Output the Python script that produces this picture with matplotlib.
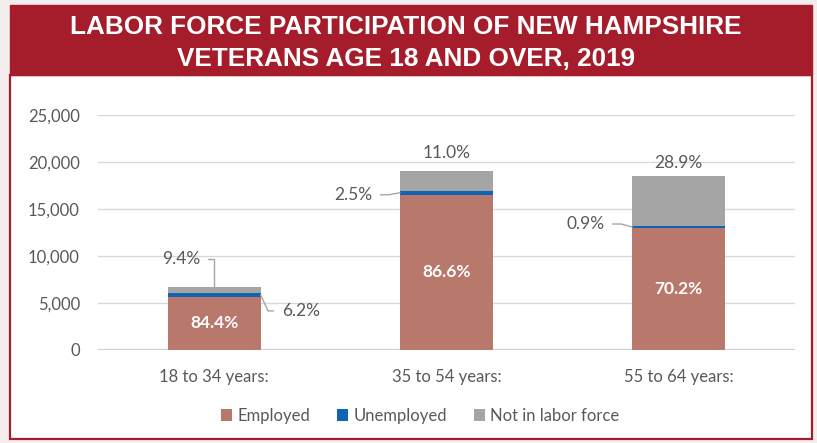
import matplotlib
matplotlib.use("Agg")
import matplotlib.pyplot as plt
from matplotlib.patches import Rectangle
from matplotlib.ticker import FuncFormatter

categories = ["18 to 34 years:", "35 to 54 years:", "55 to 64 years:"]
employed = [5650, 16490, 13000]
unemployed = [415, 476, 167]
not_in_lf = [630, 2095, 5350]
pct_employed = ["84.4%", "86.6%", "70.2%"]
pct_unemployed = ["6.2%", "2.5%", "0.9%"]
pct_not_in_lf = ["9.4%", "11.0%", "28.9%"]
series_names = ["Employed", "Unemployed", "Not in labor force"]
yticks = [0, 5000, 10000, 15000, 20000, 25000]
title_lines = ["LABOR FORCE PARTICIPATION OF NEW HAMPSHIRE",
               "VETERANS AGE 18 AND OVER, 2019"]

C_EMP = "#b8786b"
C_UNE = "#0f64b4"
C_NIL = "#a5a5a5"
C_RED = "#a51c2a"
C_TXT = "#595959"
C_LEAD = "#a6a6a6"
FONT = ["Lato", "DejaVu Sans"]

W, H = 817, 443
fig = plt.figure(figsize=(W / 100, H / 100), dpi=100)
fig.patch.set_facecolor("#f3eded")

# white box with red border and red header band
fig.patches.append(Rectangle((10 / W, 1 - 439 / H), 802 / W, (439 - 75) / H,
                             transform=fig.transFigure, facecolor="white",
                             edgecolor=C_RED, lw=1.6, zorder=-10))
fig.patches.append(Rectangle((10 / W, 1 - 75 / H), 802 / W, 70 / H,
                             transform=fig.transFigure, facecolor=C_RED,
                             edgecolor=C_RED, lw=1.0, zorder=-9))
for line, base in zip(title_lines, [34, 66]):
    fig.text(406 / W, 1 - base / H, line, ha="center", va="baseline", color="white",
             fontsize=18.8, fontweight="bold",
             family=["Liberation Sans", "DejaVu Sans"])

ax = fig.add_axes([98 / W, 1 - 350 / H, (795 - 98) / W, (350 - 115) / H])
ax.set_zorder(5)
ax.set_facecolor("none")
x = list(range(len(categories)))
bw = 0.4
bottom2 = [e + u for e, u in zip(employed, unemployed)]
totals = [b + n for b, n in zip(bottom2, not_in_lf)]

ax.bar(x, employed, bw, color=C_EMP, label=series_names[0], zorder=3)
ax.bar(x, unemployed, bw, bottom=employed, color=C_UNE, label=series_names[1], zorder=3)
ax.bar(x, not_in_lf, bw, bottom=bottom2, color=C_NIL, label=series_names[2], zorder=3)

ax.set_xlim(-0.5, 2.5)
ax.set_ylim(0, 25000)
ax.set_yticks(yticks)
ax.yaxis.set_major_formatter(FuncFormatter(lambda v, p: f"{int(v):,}"))
ax.set_xticks(x)
ax.set_xticklabels(categories)
for s in ax.spines.values():
    s.set_visible(False)
ax.grid(axis="y", color="#d9d9d9", lw=1.0, zorder=0)
ax.axhline(0, color="#d0d0d0", lw=1.6, zorder=2)
ax.tick_params(axis="both", length=0, colors=C_TXT, labelsize=12)
ax.tick_params(axis="y", pad=13)
ax.tick_params(axis="x", pad=14)
for lbl in ax.get_xticklabels() + ax.get_yticklabels():
    lbl.set_family(FONT)

# employed labels
for i in x:
    ax.text(i, employed[i] / 2, pct_employed[i], ha="center", va="center",
            color="white", fontsize=12.5, fontweight="bold", family=FONT, zorder=5)

lead = dict(arrowstyle="-", color=C_LEAD, lw=1.0, shrinkA=4, shrinkB=0)
tkw = dict(color=C_TXT, fontsize=12.5, family=FONT, textcoords="offset pixels", zorder=5)

# 18 to 34
ax.annotate(pct_not_in_lf[0], xy=(0, totals[0]), xytext=(-14, 28), ha="right", va="center",
            arrowprops=dict(connectionstyle="angle,angleA=0,angleB=90,rad=0", **lead), **tkw)
ax.annotate(pct_unemployed[0], xy=(0 + bw / 2, employed[0] + unemployed[0] / 2),
            xytext=(21, -16), ha="left", va="center",
            arrowprops=dict(connectionstyle="angle,angleA=0,angleB=-65,rad=0", **lead), **tkw)
# 35 to 54
ax.annotate(pct_unemployed[1], xy=(1 - bw / 2, employed[1] + unemployed[1] / 2),
            xytext=(-28, -2), ha="right", va="center",
            arrowprops=dict(connectionstyle="angle,angleA=0,angleB=10,rad=0", **lead), **tkw)
ax.annotate(pct_not_in_lf[1], xy=(1, totals[1]), xytext=(0, 18), ha="center", va="center", **tkw)
# 55 to 64
ax.annotate(pct_unemployed[2], xy=(2 - bw / 2, employed[2] + unemployed[2] / 2),
            xytext=(-28, 3), ha="right", va="center",
            arrowprops=dict(connectionstyle="angle,angleA=0,angleB=-15,rad=0", **lead), **tkw)
ax.annotate(pct_not_in_lf[2], xy=(2, totals[2]), xytext=(0, 13), ha="center", va="center", **tkw)

leg = fig.legend(loc="center", bbox_to_anchor=(420 / W, 1 - 416 / H), ncol=3, frameon=False,
                 handlelength=0.7, handleheight=0.7, handletextpad=0.3, columnspacing=1.6,
                 prop={"family": FONT, "size": 12})
for t in leg.get_texts():
    t.set_color(C_TXT)

fig.savefig("out.png", dpi=100, facecolor=fig.get_facecolor())
